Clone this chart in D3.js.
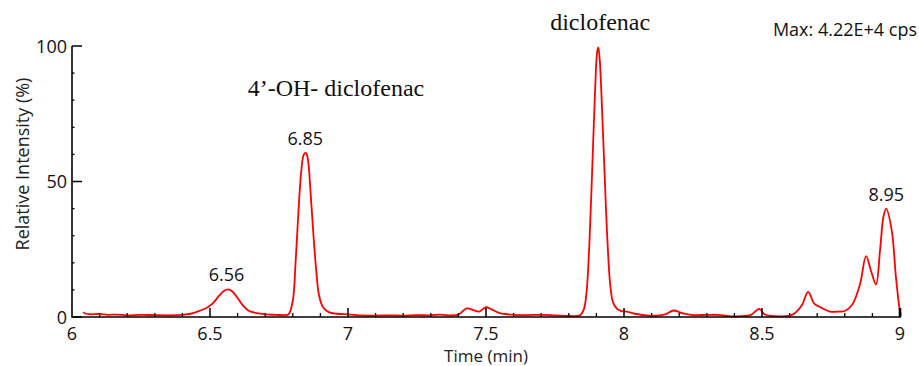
<!DOCTYPE html>
<html><head><meta charset="utf-8">
<script src="https://cdn.jsdelivr.net/npm/d3@7"></script>
<style>
body{margin:0;background:#fff;}
svg{display:block;}
</style></head>
<body>
<svg id="c" width="919" height="366"></svg>
<script>
const times = [6.04,6.05,6.07,6.10,6.13,6.16,6.20,6.25,6.30,6.35,6.40,6.43,6.46,6.49,6.51,6.53,6.55,6.565,6.58,6.60,6.62,6.64,6.67,6.70,6.74,6.77,6.785,6.80,6.81,6.82,6.83,6.84,6.848,6.855,6.865,6.875,6.885,6.895,6.91,6.93,6.96,7.00,7.05,7.10,7.15,7.20,7.25,7.30,7.33,7.36,7.40,7.43,7.455,7.475,7.50,7.52,7.55,7.60,7.65,7.70,7.75,7.80,7.84,7.855,7.865,7.875,7.885,7.895,7.903,7.907,7.912,7.92,7.93,7.94,7.95,7.96,7.975,7.99,8.01,8.04,8.08,8.12,8.15,8.18,8.21,8.25,8.30,8.34,8.38,8.42,8.46,8.49,8.51,8.55,8.60,8.62,8.645,8.667,8.69,8.71,8.746,8.78,8.80,8.826,8.855,8.877,8.895,8.913,8.928,8.94,8.95,8.97,8.985,8.997,9.003];
const intensity = [1.8,1.2,1.0,1.1,0.8,0.9,0.6,0.8,0.7,0.6,0.8,1.2,2.2,3.5,5.0,7.5,9.6,10.2,9.5,7.0,4.2,2.3,1.4,1.0,0.8,0.7,1.0,6,20,38,53,60,60.5,58,45,30,17,8,3.5,1.8,1.2,1.0,0.6,0.5,0.6,0.5,0.7,0.6,0.9,0.6,0.9,3.2,2.5,2.0,3.6,2.8,1.4,0.8,0.7,0.8,0.6,0.4,0.6,3,10,28,55,83,98,99.5,95,78,52,28,12,5.5,3,2.2,2.0,1.2,0.6,0.5,1.0,2.4,1.4,0.7,0.8,0.8,0.3,0.3,0.8,3.0,0.9,0.3,0.5,1.5,4.4,9.3,4.8,3.7,2.0,2.0,2.2,4.4,12,22.5,17,12,25,37,40,32,15,4,0.5];
const xTicks = [6,6.5,7,7.5,8,8.5,9];
const xTickLabels = ["6","6.5","7","7.5","8","8.5","9"];
const yTicks = [0,50,100];
const peakLabels = [{t:6.56,v:10.2,label:"6.56"},{t:6.845,v:60.5,label:"6.85"},{t:8.95,v:40,label:"8.95"}];
const compoundLabels = [{t:7.91,label:"diclofenac"},{t:6.96,label:"4\u2019-OH- diclofenac"}];
const maxLabel = "Max: 4.22E+4 cps";

const sans = "'Open Sans', 'Noto Sans', sans-serif";
const serif = "'Liberation Serif', 'DejaVu Serif', serif";
const svg = d3.select("#c");
const x = d3.scaleLinear().domain([6,9]).range([72,900]);
const y = d3.scaleLinear().domain([0,100]).range([317,46]);

// trace
const line = d3.line().x((d,i)=>x(times[i])).y((d,i)=>y(intensity[i])).curve(d3.curveCatmullRom.alpha(0.5));
svg.append("path").datum(intensity).attr("d",line).attr("fill","none").attr("stroke","#ff0000").attr("stroke-width",1.8).attr("stroke-linejoin","round");

// x axis
const gx = svg.append("g");
gx.append("line").attr("x1",x(6)).attr("x2",x(9)+1).attr("y1",y(0)).attr("y2",y(0)).attr("stroke","#000").attr("stroke-width",1.6);
const minorX = d3.range(61,90).map(d=>d/10).filter(d=>Math.abs(d*2-Math.round(d*2))>1e-6);
gx.selectAll(".mx").data(minorX).join("line").attr("x1",d=>x(d)).attr("x2",d=>x(d)).attr("y1",y(0)).attr("y2",y(0)-4).attr("stroke","#000").attr("stroke-width",1.3);
gx.selectAll(".Mx").data(xTicks.slice(1)).join("line").attr("x1",d=>x(d)).attr("x2",d=>x(d)).attr("y1",y(0)).attr("y2",y(0)-9).attr("stroke","#000").attr("stroke-width",d=>d===9?2.6:1.5);
gx.selectAll("text").data(xTicks).join("text").attr("x",d=>x(d)).attr("y",340).attr("text-anchor","middle")
  .attr("font-family",sans).attr("font-size",18).attr("fill","#111").text((d,i)=>xTickLabels[i]);

// y axis
const gy = svg.append("g");
gy.append("line").attr("x1",x(6)).attr("x2",x(6)).attr("y1",y(100)).attr("y2",y(0)+0.8).attr("stroke","#000").attr("stroke-width",1.6);
gy.selectAll(".My").data(yTicks).join("line").attr("x1",x(6)).attr("x2",x(6)+10).attr("y1",d=>y(d)).attr("y2",d=>y(d)).attr("stroke","#000").attr("stroke-width",1.5);
gy.selectAll(".my").data(d3.range(10,100,10).filter(d=>d!==50)).join("line").attr("x1",x(6)).attr("x2",x(6)+2.5).attr("y1",d=>y(d)).attr("y2",d=>y(d)).attr("stroke","#000").attr("stroke-width",1.3);
gy.selectAll("text").data(yTicks).join("text").attr("x",67).attr("y",d=>y(d)+6.5).attr("text-anchor","end")
  .attr("font-family",sans).attr("font-size",18).attr("fill","#111").text(d=>d);

// axis titles
svg.append("text").attr("x",x(7.5)).attr("y",362).attr("text-anchor","middle")
  .attr("font-family",sans).attr("font-size",17).attr("fill","#222").text("Time (min)");
svg.append("text").attr("transform","translate(29,164) rotate(-90)").attr("text-anchor","middle")
  .attr("font-family",sans).attr("font-size",18).attr("fill","#222").text("Relative Intensity (%)");

// peak labels
svg.selectAll(".pk").data(peakLabels).join("text").attr("x",d=>x(d.t)).attr("y",d=>y(d.v)-8).attr("text-anchor","middle")
  .attr("font-family",sans).attr("font-size",18).attr("fill","#111").text(d=>d.label);

// compound labels (serif)
svg.append("text").attr("x",x(compoundLabels[0].t)+1).attr("y",30).attr("text-anchor","middle")
  .attr("font-family",serif).attr("font-size",24).attr("fill","#111").text(compoundLabels[0].label);
svg.append("text").attr("x",x(compoundLabels[1].t)-1).attr("y",96).attr("text-anchor","middle")
  .attr("font-family",serif).attr("font-size",24).attr("fill","#111").text(compoundLabels[1].label);

// max label
svg.append("text").attr("x",917).attr("y",36).attr("text-anchor","end")
  .attr("font-family",sans).attr("font-size",18).attr("fill","#111").text(maxLabel);
</script>
</body></html>
